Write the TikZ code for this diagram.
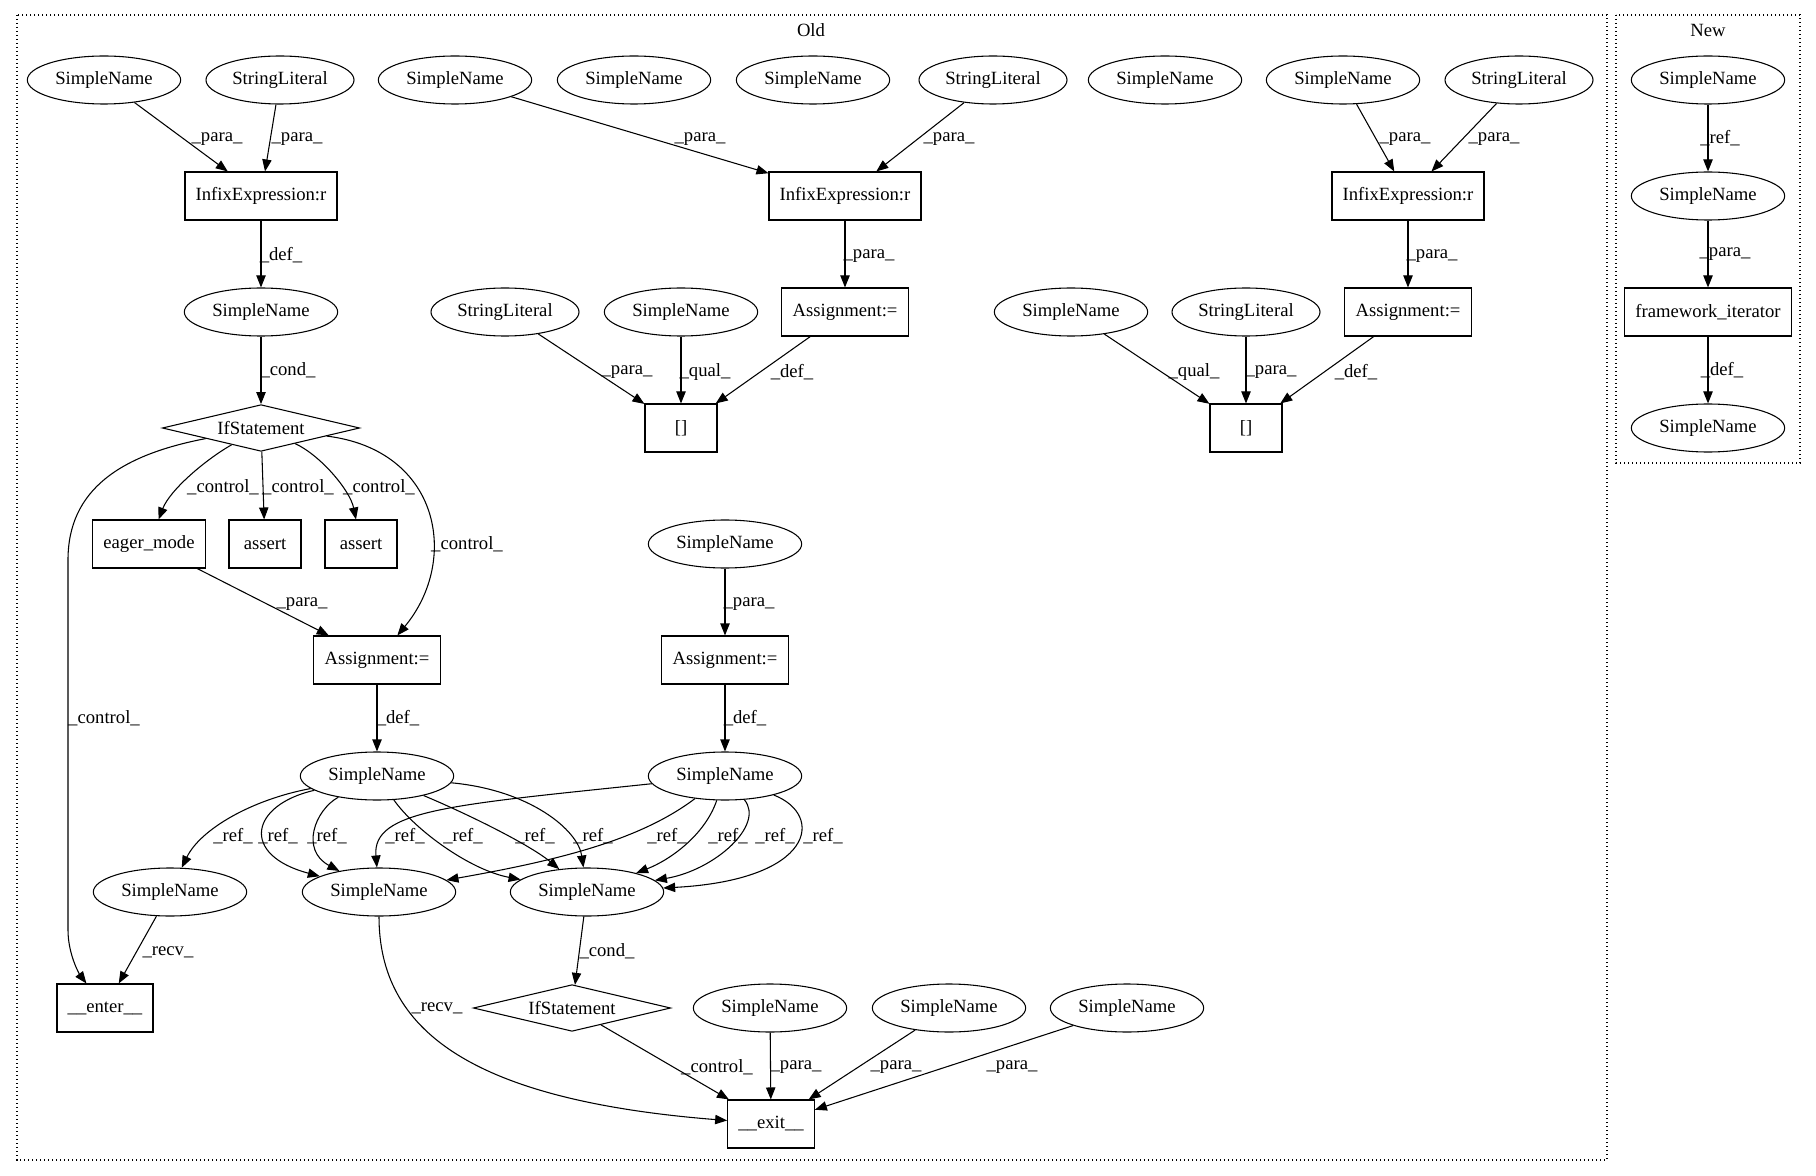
\documentclass[tikz,border=0pt]{standalone}
\usepackage{fontspec}
\setmainfont{Liberation Serif}
\usetikzlibrary{arrows.meta,shapes.geometric}

\begin{document}
\begin{tikzpicture}[x=0.75pt,y=-0.75pt,line width=0.8pt,
  font={\fontsize{14pt}{16pt}\selectfont},
  ast/.style={ellipse,draw,minimum width=115pt,minimum height=36pt,inner sep=0pt},
  lit/.style={ast,minimum width=111pt},
  op/.style={rectangle,draw,minimum width=54pt,minimum height=36pt,inner xsep=8pt,inner ysep=0pt},
  cond/.style={diamond,draw,aspect=4,minimum width=148pt,minimum height=35pt,inner sep=0pt},
  link/.style={-{Triangle[length=9pt,width=7pt]}},
  lbl/.style={inner sep=0pt},
  cluster/.style={dotted,line width=1pt}]
\useasboundingbox (0,0) rectangle (1816,1176);
% clusters
\draw[cluster] (17,15) rectangle (1607,1160);
\node (old) at (811,30) {Old};
\draw[cluster] (1616,15) rectangle (1800,463);
\node (new) at (1708,30) {New};
% top row
\node[ast] (sn1) at (104,80) {SimpleName};
\node[lit] (sl1) at (280,80) {StringLiteral};
\node[ast] (sn2) at (455,80) {SimpleName};
\node[ast] (sn3) at (634,80) {SimpleName};
\node[ast] (sn4) at (813,80) {SimpleName};
\node[lit] (sl2) at (993,80) {StringLiteral};
\node[ast] (sn5) at (1165,80) {SimpleName};
\node[ast] (sn6) at (1343,80) {SimpleName};
\node[lit] (sl3) at (1519,80) {StringLiteral};
\node[op] (inf1) at (261,196) {InfixExpression:r};
\node[op] (inf2) at (845,196) {InfixExpression:r};
\node[op] (inf3) at (1408,196) {InfixExpression:r};
\node[ast] (sn7) at (261,312) {SimpleName};
\node[lit] (sl4) at (505,312) {StringLiteral};
\node[ast] (sn8) at (681,312) {SimpleName};
\node[op] (asg1) at (845,312) {Assignment:=};
\node[ast] (sn9) at (1071,312) {SimpleName};
\node[lit] (sl5) at (1246,312) {StringLiteral};
\node[op] (asg2) at (1408,312) {Assignment:=};
\node[cond] (if1) at (261,428) {IfStatement};
\node[op] (idx1) at (681,428) {[]};
\node[op] (idx2) at (1246,428) {[]};
% middle
\node[op] (eager) at (149,544) {eager\_mode};
\node[op] (as1) at (265,544) {assert};
\node[op] (as2) at (361,544) {assert};
\node[ast] (sn10) at (725,544) {SimpleName};
\node[op] (asg3) at (377,660) {Assignment:=};
\node[op] (asg4) at (725,660) {Assignment:=};
\node[ast] (sn11) at (377,776) {SimpleName};
\node[ast] (sn12) at (725,776) {SimpleName};
\node[ast] (sn13) at (170,892) {SimpleName};
\node[ast] (sn14) at (379,892) {SimpleName};
\node[ast] (sn15) at (587,892) {SimpleName};
% bottom
\node[op] (enter) at (105,1008) {\_\_enter\_\_};
\node[cond] (if2) at (572,1008) {IfStatement};
\node[ast] (sn16) at (770,1008) {SimpleName};
\node[ast] (sn17) at (949,1008) {SimpleName};
\node[ast] (sn18) at (1127,1008) {SimpleName};
\node[op] (exit) at (771,1124) {\_\_exit\_\_};
% new
\node[ast] (nsn1) at (1708,80) {SimpleName};
\node[ast] (nsn2) at (1708,196) {SimpleName};
\node[op] (fwi) at (1708,312) {framework\_iterator};
\node[ast] (nsn3) at (1708,428) {SimpleName};

% edges, top part
\draw[link] (sn1) -- (inf1) node[lbl] at (217,139) {\_para\_};
\draw[link] (sl1) -- (inf1) node[lbl] at (297,139) {\_para\_};
\draw[link] (inf1) -- (sn7) node[lbl] at (281,255) {\_def\_};
\draw[link] (sn7) -- (if1) node[lbl] at (288,370) {\_cond\_};
\draw[link] (sn2) -- (inf2) node[lbl] at (700,139) {\_para\_};
\draw[link] (sl2) -- (inf2) node[lbl] at (949,139) {\_para\_};
\draw[link] (inf2) -- (asg1) node[lbl] at (869,256) {\_para\_};
\draw[link] (sl4) -- (idx1) node[lbl] at (627,372) {\_para\_};
\draw[link] (sn8) -- (idx1) node[lbl] at (705,372) {\_qual\_};
\draw[link] (asg1) -- (idx1) node[lbl] at (792,372) {\_def\_};
\draw[link] (sn6) -- (inf3) node[lbl] at (1405,139) {\_para\_};
\draw[link] (sl3) -- (inf3) node[lbl] at (1494,139) {\_para\_};
\draw[link] (inf3) -- (asg2) node[lbl] at (1432,256) {\_para\_};
\draw[link] (sn9) -- (idx2) node[lbl] at (1194,372) {\_qual\_};
\draw[link] (sl5) -- (idx2) node[lbl] at (1271,372) {\_para\_};
\draw[link] (asg2) -- (idx2) node[lbl] at (1356,372) {\_def\_};
% control edges of the first if
\draw[link] (if1) .. controls (205,460) and (170,490) .. (eager) node[lbl] at (223,487) {\_control\_};
\draw[link] (if1) -- (as1) node[lbl] at (298,487) {\_control\_};
\draw[link] (if1) .. controls (320,455) and (350,490) .. (as2) node[lbl] at (379,487) {\_control\_};
\draw[link] (if1) .. controls (440,450) and (460,560) .. (asg3) node[lbl] at (467,544) {\_control\_};
\draw[link] (if1) .. controls (120,455) and (68,490) .. (68,560) -- (68,930)
  .. controls (68,955) and (80,975) .. (enter) node[lbl] at (104,718) {\_control\_};
\draw[link] (eager) -- (asg3) node[lbl] at (302,604) {\_para\_};
\draw[link] (asg3) -- (sn11) node[lbl] at (398,718) {\_def\_};
\draw[link] (sn10) -- (asg4) node[lbl] at (749,604) {\_para\_};
\draw[link] (asg4) -- (sn12) node[lbl] at (745,718) {\_def\_};
% refs
\draw[link] (sn11) .. controls (250,800) and (200,830) .. (sn13) node[lbl] at (233,836) {\_ref\_};
\draw[link] (sn11) .. controls (250,805) and (240,855) .. (sn14) node[lbl] at (278,836) {\_ref\_};
\draw[link] (sn11) .. controls (315,810) and (300,850) .. (sn14) node[lbl] at (327,836) {\_ref\_};
\draw[link] (sn12) .. controls (450,805) and (372,810) .. (sn14) node[lbl] at (405,836) {\_ref\_};
\draw[link] (sn11) .. controls (415,830) and (470,870) .. (sn15) node[lbl] at (463,836) {\_ref\_};
\draw[link] (sn11) .. controls (470,815) and (530,845) .. (sn15) node[lbl] at (535,836) {\_ref\_};
\draw[link] (sn11) .. controls (530,790) and (578,830) .. (sn15) node[lbl] at (593,836) {\_ref\_};
\draw[link] (sn12) .. controls (640,840) and (560,860) .. (sn14) node[lbl] at (667,836) {\_ref\_};
\draw[link] (sn12) .. controls (705,835) and (670,860) .. (sn15) node[lbl] at (728,836) {\_ref\_};
\draw[link] (sn12) .. controls (765,825) and (715,870) .. (sn15) node[lbl] at (775,836) {\_ref\_};
\draw[link] (sn12) .. controls (825,815) and (815,880) .. (sn15) node[lbl] at (823,836) {\_ref\_};
% bottom part
\draw[link] (sn13) -- (enter) node[lbl] at (168,952) {\_recv\_};
\draw[link] (sn14) .. controls (379,1030) and (470,1100) .. (exit) node[lbl] at (437,1008) {\_recv\_};
\draw[link] (sn15) -- (if2) node[lbl] at (607,951) {\_cond\_};
\draw[link] (if2) -- (exit) node[lbl] at (717,1067) {\_control\_};
\draw[link] (sn16) -- (exit) node[lbl] at (796,1067) {\_para\_};
\draw[link] (sn17) -- (exit) node[lbl] at (896,1067) {\_para\_};
\draw[link] (sn18) -- (exit) node[lbl] at (1012,1067) {\_para\_};
% new
\draw[link] (nsn1) -- (nsn2) node[lbl] at (1720,138) {\_ref\_};
\draw[link] (nsn2) -- (fwi) node[lbl] at (1725,254) {\_para\_};
\draw[link] (fwi) -- (nsn3) node[lbl] at (1722,370) {\_def\_};
\end{tikzpicture}
\end{document}
